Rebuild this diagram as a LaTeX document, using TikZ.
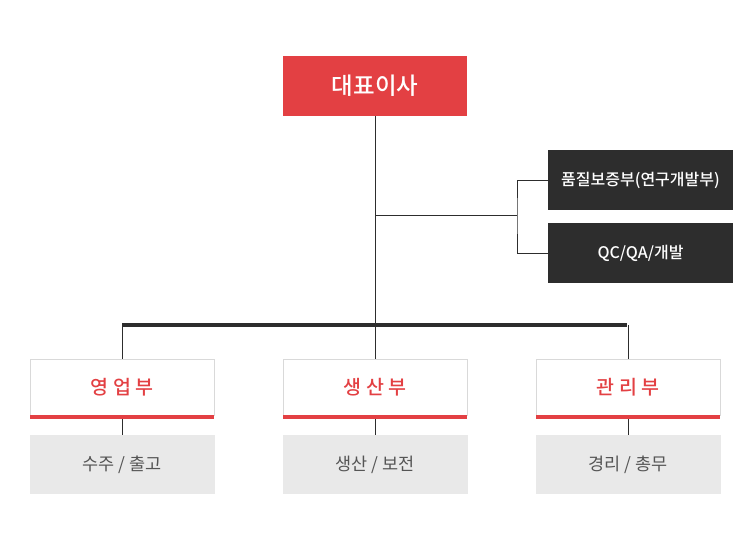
\documentclass[tikz,border=0pt]{standalone}
\usepackage{fontspec}
\setmainfont{Noto Sans CJK KR}
\newfontfamily\medfont{Noto Sans CJK KR Medium}
\newfontfamily\deptfont[LetterSpace=25]{Noto Sans CJK KR Medium}
\usetikzlibrary{positioning}

\definecolor{ceoRed}{HTML}{E34043}
\definecolor{darkBox}{HTML}{2D2D2D}
\definecolor{subGray}{HTML}{E9E9E9}
\definecolor{lineGray}{HTML}{D9D9D9}
\definecolor{textGray}{HTML}{555555}

\begin{document}
\begin{tikzpicture}[x=1pt, y=-1pt, % 1 单位 = 1 像素, y 向下
    every node/.style={inner sep=0pt, outer sep=0pt},
    ceo/.style={fill=ceoRed, text=white, minimum width=184pt, minimum height=60pt,
                font=\medfont\fontsize{23.5}{25}\selectfont},
    staff/.style={fill=darkBox, text=white, minimum width=185pt, minimum height=60pt,
                  font=\medfont\fontsize{16}{18}\selectfont},
    dept/.style={draw=lineGray, fill=white, minimum width=184pt, minimum height=56pt,
                 text=ceoRed, font=\deptfont\fontsize{19.5}{21}\selectfont},
    task/.style={fill=subGray, text=textGray, minimum width=185pt, minimum height=59pt,
                 font=\fontsize{17.5}{19}\selectfont},
    link/.style={draw=darkBox, line width=1pt}
  ]
  % 画布大小 750 x 550
  \useasboundingbox (0,0) rectangle (750,550);

  % 大表理事
  \node[ceo] (ceo) at (375,86) {대표이사};

  % 右侧两个部门
  \node[staff] (qa)  at (640.5,180) {품질보증부(연구개발부)};
  \node[staff] (dev) at (640.5,253) {QC/QA/개발};

  % 主干与分支点
  \coordinate (split) at (375,215);
  \coordinate (fork)  at (517,215);
  \coordinate (bar)   at (375,325);
  \coordinate (barL)  at (122,325);
  \coordinate (barR)  at (627,325);

  \draw[link] (ceo.south) -- (bar);
  \draw[link] (split) -- (fork);
  \draw[link] (qa.west) -| (fork) |- (dev.west);

  % 粗横线
  \draw[darkBox, line width=3.5pt] (barL) -- (barR);

  % 下方三个部门
  \foreach \x/\name/\hdr/\sub in {122/sales/{영업부}/{수주 / 출고},
                                  375/prod/{생산부}/{생산 / 보전},
                                  628/admin/{관리부}/{경리 / 총무}}{
    \node[dept] (\name) at (\x,387) {\hdr};
    \fill[ceoRed] (\name.south west) rectangle ([yshift=-4pt]\name.south east);
    \node[task] (\name-sub) at (\x,464.5) {\sub};
    \draw[link] (\x,325) -- (\name.north);
    \draw[link] ([yshift=-4pt]\name.south) -- (\name-sub.north);
  }
\end{tikzpicture}
\end{document}
